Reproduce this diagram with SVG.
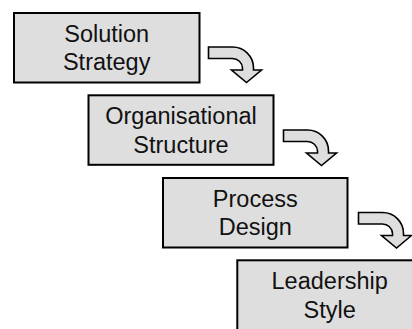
<svg xmlns="http://www.w3.org/2000/svg" width="412" height="329" viewBox="0 0 412 329">
  <style>
    .box { fill: #dedede; stroke: #000; stroke-width: 2; }
    .lbl { font-family: "Liberation Sans", Arial, Helvetica, sans-serif; font-size: 23.5px; fill: #111; text-anchor: middle; }
    .flow { fill: #dedede; stroke: #000; stroke-width: 1.6; stroke-linejoin: miter; }
  </style>
  <defs>
    <!-- curved step arrow, tip at the origin -->
    <path id="step-arrow" d="M -38,-35.5 H -14 A 21 21 0 0 1 7,-14.5 V -12.5 H 15 L 0,0 L -15,-12.5 H -4 V -14.5 A 10 10 0 0 0 -14,-24 H -38 Z"/>
  </defs>
  <rect width="412" height="329" fill="#fff"/>

  <g id="connectors">
    <use href="#step-arrow" class="flow" transform="translate(246.5,82.5)"/>
    <use href="#step-arrow" class="flow" transform="translate(321.5,165.5)"/>
    <use href="#step-arrow" class="flow" transform="translate(396.5,248)"/>
  </g>

  <g id="solution-strategy">
    <rect class="box" x="14" y="13" width="185.5" height="69.5"/>
    <text class="lbl" x="106.7" y="41.7">Solution</text>
    <text class="lbl" x="106.7" y="70">Strategy</text>
  </g>

  <g id="organisational-structure">
    <rect class="box" x="88.5" y="95.3" width="185" height="69.5"/>
    <text class="lbl" x="181" y="124.2">Organisational</text>
    <text class="lbl" x="181" y="152.6">Structure</text>
  </g>

  <g id="process-design">
    <rect class="box" x="163" y="178" width="184.5" height="69.5"/>
    <text class="lbl" x="255.3" y="206.8">Process</text>
    <text class="lbl" x="255.3" y="235.2">Design</text>
  </g>

  <!-- last step runs past the right and bottom edges -->
  <g id="leadership-style">
    <rect class="box" x="237.3" y="260.3" width="185" height="76"/>
    <text class="lbl" x="329.7" y="289">Leadership</text>
    <text class="lbl" x="329.7" y="317.5">Style</text>
  </g>
</svg>
